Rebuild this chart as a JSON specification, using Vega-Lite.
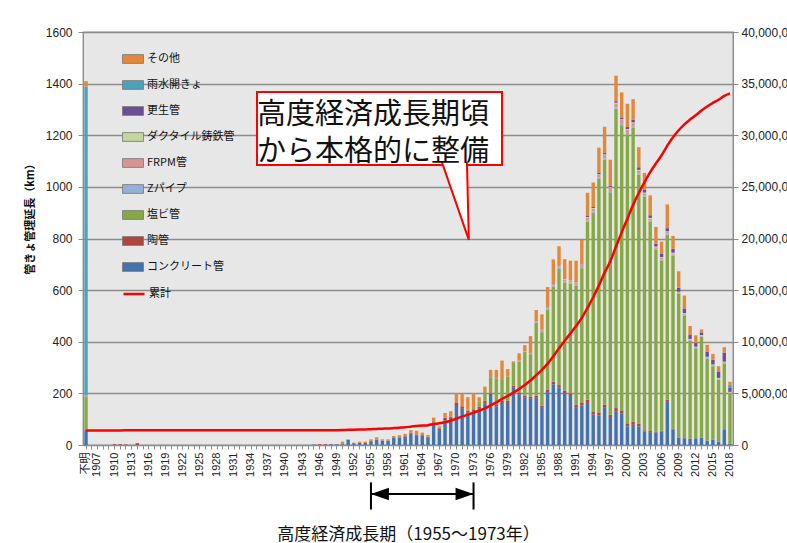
{
"$schema": "https://vega.github.io/schema/vega-lite/v6.json",
"width": 650, "height": 413,
"autosize": {"type": "none"},
"padding": {"left": 83, "top": 32, "right": 54, "bottom": 98},
"background": "white",
"config": {"view": {"fill": "#e7e7e7", "stroke": "#5a5a5a", "strokeWidth": 1.2}, "font": "Liberation Sans"},
"datasets": {
"rank": [
{"type":"コンクリート管","rank":1},{"type":"陶管","rank":2},{"type":"塩ビ管","rank":3},{"type":"Zパイプ","rank":4},{"type":"FRPM管","rank":5},
{"type":"ダクタイル鋳鉄管","rank":6},{"type":"更生管","rank":7},{"type":"雨水開きょ","rank":8},{"type":"その他","rank":9}
],
"bars": [
{"year":"不明","コンクリート管":58,"塩ビ管":130,"FRPM管":5,"雨水開きょ":1195,"その他":22},
{"year":"1910","陶管":3},
{"year":"1911","陶管":3},
{"year":"1912","陶管":2},
{"year":"1914","陶管":7},
{"year":"1945","コンクリート管":2},
{"year":"1946","陶管":3},
{"year":"1947","陶管":3},
{"year":"1948","コンクリート管":3},
{"year":"1949","コンクリート管":3},
{"year":"1950","コンクリート管":3,"その他":10},
{"year":"1951","コンクリート管":20,"その他":2},
{"year":"1952","コンクリート管":7,"その他":2},
{"year":"1953","コンクリート管":8,"その他":5},
{"year":"1954","コンクリート管":8,"その他":5},
{"year":"1955","コンクリート管":15,"その他":7},
{"year":"1956","コンクリート管":20,"その他":10},
{"year":"1957","コンクリート管":17,"その他":5},
{"year":"1958","コンクリート管":17,"その他":5},
{"year":"1959","コンクリート管":27,"その他":8},
{"year":"1960","コンクリート管":28,"陶管":2,"その他":8},
{"year":"1961","コンクリート管":33,"陶管":2,"その他":8},
{"year":"1962","コンクリート管":45,"陶管":3,"その他":10},
{"year":"1963","コンクリート管":38,"陶管":3,"その他":14},
{"year":"1964","コンクリート管":35,"陶管":3,"その他":10},
{"year":"1965","コンクリート管":30,"陶管":2,"その他":7},
{"year":"1966","コンクリート管":80,"陶管":8,"その他":18},
{"year":"1967","コンクリート管":58,"陶管":4,"その他":10},
{"year":"1968","コンクリート管":95,"陶管":10,"塩ビ管":2,"その他":17},
{"year":"1969","コンクリート管":98,"陶管":10,"塩ビ管":3,"その他":20},
{"year":"1970","コンクリート管":155,"陶管":10,"その他":35},
{"year":"1971","コンクリート管":140,"陶管":10,"その他":50},
{"year":"1972","コンクリート管":125,"陶管":8,"塩ビ管":5,"その他":47},
{"year":"1973","コンクリート管":130,"陶管":8,"塩ビ管":5,"その他":57},
{"year":"1974","コンクリート管":140,"陶管":8,"塩ビ管":20,"その他":17},
{"year":"1975","コンクリート管":160,"陶管":10,"塩ビ管":35,"その他":21},
{"year":"1976","コンクリート管":190,"陶管":10,"塩ビ管":60,"その他":31},
{"year":"1977","コンクリート管":150,"陶管":8,"塩ビ管":100,"その他":33},
{"year":"1978","コンクリート管":163,"陶管":10,"塩ビ管":82,"その他":72},
{"year":"1979","コンクリート管":163,"陶管":8,"塩ビ管":95,"その他":28},
{"year":"1980","コンクリート管":222,"陶管":8,"塩ビ管":88,"その他":6},
{"year":"1981","コンクリート管":196,"陶管":8,"塩ビ管":120,"Zパイプ":3,"その他":28},
{"year":"1982","コンクリート管":183,"陶管":8,"塩ビ管":170,"Zパイプ":3,"その他":23},
{"year":"1983","コンクリート管":179,"陶管":8,"塩ビ管":165,"Zパイプ":3,"その他":67},
{"year":"1984","コンクリート管":183,"陶管":8,"塩ビ管":282,"Zパイプ":3,"FRPM管":3,"その他":44},
{"year":"1985","コンクリート管":144,"陶管":8,"塩ビ管":285,"Zパイプ":5,"FRPM管":5,"その他":59},
{"year":"1986","コンクリート管":205,"陶管":10,"塩ビ管":310,"Zパイプ":5,"FRPM管":5,"その他":77},
{"year":"1987","コンクリート管":235,"陶管":10,"塩ビ管":368,"Zパイプ":5,"FRPM管":5,"その他":96},
{"year":"1988","コンクリート管":222,"陶管":10,"塩ビ管":450,"Zパイプ":5,"FRPM管":5,"その他":78},
{"year":"1989","コンクリート管":200,"陶管":10,"塩ビ管":420,"Zパイプ":5,"FRPM管":5,"ダクタイル鋳鉄管":2,"その他":78},
{"year":"1990","コンクリート管":190,"陶管":10,"塩ビ管":425,"Zパイプ":5,"FRPM管":5,"ダクタイル鋳鉄管":2,"その他":77},
{"year":"1991","コンクリート管":144,"陶管":12,"塩ビ管":460,"Zパイプ":5,"FRPM管":8,"ダクタイル鋳鉄管":2,"更生管":3,"その他":80},
{"year":"1992","コンクリート管":153,"陶管":12,"塩ビ管":520,"Zパイプ":5,"FRPM管":8,"ダクタイル鋳鉄管":2,"更生管":3,"その他":92},
{"year":"1993","コンクリート管":163,"陶管":12,"塩ビ管":690,"Zパイプ":5,"FRPM管":10,"ダクタイル鋳鉄管":3,"更生管":4,"その他":90},
{"year":"1994","コンクリート管":118,"陶管":12,"塩ビ管":770,"Zパイプ":5,"FRPM管":10,"ダクタイル鋳鉄管":3,"更生管":4,"その他":95},
{"year":"1995","コンクリート管":114,"陶管":12,"塩ビ管":905,"Zパイプ":5,"FRPM管":10,"ダクタイル鋳鉄管":3,"更生管":5,"その他":98},
{"year":"1996","コンクリート管":144,"陶管":12,"塩ビ管":950,"Zパイプ":5,"FRPM管":12,"ダクタイル鋳鉄管":3,"更生管":5,"その他":102},
{"year":"1997","コンクリート管":105,"陶管":12,"塩ビ管":862,"Zパイプ":5,"FRPM管":12,"ダクタイル鋳鉄管":3,"更生管":6,"その他":100},
{"year":"1998","コンクリート管":131,"陶管":12,"塩ビ管":1160,"Zパイプ":5,"FRPM管":15,"ダクタイル鋳鉄管":3,"更生管":6,"その他":99},
{"year":"1999","コンクリート管":122,"陶管":12,"塩ビ管":1105,"Zパイプ":5,"FRPM管":15,"ダクタイル鋳鉄管":3,"更生管":7,"その他":97},
{"year":"2000","コンクリート管":72,"陶管":12,"塩ビ管":1120,"Zパイプ":5,"FRPM管":12,"ダクタイル鋳鉄管":3,"更生管":8,"その他":90},
{"year":"2001","コンクリート管":78,"陶管":12,"塩ビ管":1140,"Zパイプ":5,"FRPM管":12,"ダクタイル鋳鉄管":3,"更生管":10,"その他":80},
{"year":"2002","コンクリート管":72,"陶管":10,"塩ビ管":966,"Zパイプ":5,"FRPM管":10,"ダクタイル鋳鉄管":3,"更生管":10,"その他":78},
{"year":"2003","コンクリート管":52,"陶管":5,"塩ビ管":905,"Zパイプ":5,"FRPM管":8,"ダクタイル鋳鉄管":3,"更生管":10,"その他":66},
{"year":"2004","コンクリート管":50,"陶管":4,"塩ビ管":810,"Zパイプ":5,"FRPM管":8,"ダクタイル鋳鉄管":3,"更生管":10,"その他":77},
{"year":"2005","コンクリート管":48,"陶管":3,"塩ビ管":705,"Zパイプ":4,"FRPM管":6,"ダクタイル鋳鉄管":3,"更生管":10,"その他":66},
{"year":"2006","コンクリート管":52,"陶管":3,"塩ビ管":660,"Zパイプ":4,"FRPM管":6,"ダクタイル鋳鉄管":3,"更生管":12,"その他":48},
{"year":"2007","コンクリート管":170,"陶管":5,"塩ビ管":640,"Zパイプ":4,"FRPM管":6,"ダクタイル鋳鉄管":3,"更生管":12,"その他":92},
{"year":"2008","コンクリート管":61,"陶管":2,"塩ビ管":670,"Zパイプ":4,"FRPM管":5,"ダクタイル鋳鉄管":3,"更生管":15,"その他":50},
{"year":"2009","コンクリート管":29,"陶管":1,"塩ビ管":555,"Zパイプ":3,"FRPM管":4,"ダクタイル鋳鉄管":2,"更生管":15,"その他":64},
{"year":"2010","コンクリート管":26,"陶管":1,"塩ビ管":475,"Zパイプ":3,"FRPM管":4,"ダクタイル鋳鉄管":2,"更生管":18,"その他":50},
{"year":"2011","コンクリート管":24,"塩ビ管":380,"Zパイプ":2,"FRPM管":3,"ダクタイル鋳鉄管":2,"更生管":15,"その他":35},
{"year":"2012","コンクリート管":26,"塩ビ管":348,"Zパイプ":2,"FRPM管":3,"ダクタイル鋳鉄管":2,"更生管":14,"その他":30},
{"year":"2013","コンクリート管":29,"塩ビ管":390,"Zパイプ":2,"FRPM管":3,"ダクタイル鋳鉄管":2,"更生管":10,"その他":12},
{"year":"2014","コンクリート管":17,"塩ビ管":318,"Zパイプ":2,"FRPM管":3,"ダクタイル鋳鉄管":2,"更生管":20,"その他":26},
{"year":"2015","コンクリート管":20,"塩ビ管":285,"Zパイプ":2,"FRPM管":3,"ダクタイル鋳鉄管":2,"更生管":18,"その他":23},
{"year":"2016","コンクリート管":13,"塩ビ管":240,"Zパイプ":2,"FRPM管":3,"ダクタイル鋳鉄管":2,"更生管":25,"その他":20},
{"year":"2017","コンクリート管":61,"塩ビ管":255,"Zパイプ":2,"FRPM管":3,"ダクタイル鋳鉄管":2,"更生管":35,"その他":21},
{"year":"2018","コンクリート管":5,"塩ビ管":195,"Zパイプ":2,"FRPM管":2,"ダクタイル鋳鉄管":2,"更生管":15,"雨水開きょ":12,"その他":12}
],
"cum": [
{"year":"不明","m":1410000},{"year":"1906","m":1410000},{"year":"1907","m":1410000},{"year":"1908","m":1410000},{"year":"1909","m":1410000},
{"year":"1910","m":1413000},{"year":"1911","m":1416000},{"year":"1912","m":1418000},{"year":"1913","m":1418000},{"year":"1914","m":1425000},
{"year":"1915","m":1425000},{"year":"1916","m":1425000},{"year":"1917","m":1425000},{"year":"1918","m":1425000},{"year":"1919","m":1425000},
{"year":"1920","m":1425000},{"year":"1921","m":1425000},{"year":"1922","m":1425000},{"year":"1923","m":1425000},{"year":"1924","m":1425000},
{"year":"1925","m":1425000},{"year":"1926","m":1425000},{"year":"1927","m":1425000},{"year":"1928","m":1425000},{"year":"1929","m":1425000},
{"year":"1930","m":1425000},{"year":"1931","m":1425000},{"year":"1932","m":1425000},{"year":"1933","m":1425000},{"year":"1934","m":1425000},
{"year":"1935","m":1425000},{"year":"1936","m":1425000},{"year":"1937","m":1425000},{"year":"1938","m":1425000},{"year":"1939","m":1425000},
{"year":"1940","m":1425000},{"year":"1941","m":1425000},{"year":"1942","m":1425000},{"year":"1943","m":1425000},{"year":"1944","m":1425000},
{"year":"1945","m":1427000},{"year":"1946","m":1430000},{"year":"1947","m":1433000},{"year":"1948","m":1436000},{"year":"1949","m":1439000},
{"year":"1950","m":1452000},{"year":"1951","m":1474000},{"year":"1952","m":1483000},{"year":"1953","m":1496000},{"year":"1954","m":1509000},
{"year":"1955","m":1531000},{"year":"1956","m":1561000},{"year":"1957","m":1583000},{"year":"1958","m":1605000},{"year":"1959","m":1640000},
{"year":"1960","m":1678000},{"year":"1961","m":1721000},{"year":"1962","m":1779000},{"year":"1963","m":1834000},{"year":"1964","m":1882000},
{"year":"1965","m":1921000},{"year":"1966","m":2027000},{"year":"1967","m":2099000},{"year":"1968","m":2223000},{"year":"1969","m":2354000},
{"year":"1970","m":2554000},{"year":"1971","m":2754000},{"year":"1972","m":2939000},{"year":"1973","m":3139000},{"year":"1974","m":3324000},
{"year":"1975","m":3550000},{"year":"1976","m":3841000},{"year":"1977","m":4132000},{"year":"1978","m":4459000},{"year":"1979","m":4753000},
{"year":"1980","m":5077000},{"year":"1981","m":5432000},{"year":"1982","m":5819000},{"year":"1983","m":6241000},{"year":"1984","m":6764000},
{"year":"1985","m":7270000},{"year":"1986","m":7882000},{"year":"1987","m":8601000},{"year":"1988","m":9371000},{"year":"1989","m":10091000},
{"year":"1990","m":10805000},{"year":"1991","m":11519000},{"year":"1992","m":12314000},{"year":"1993","m":13291000},{"year":"1994","m":14308000},
{"year":"1995","m":15460000},{"year":"1996","m":16693000},{"year":"1997","m":17798000},{"year":"1998","m":19229000},{"year":"1999","m":20595000},
{"year":"2000","m":21917000},{"year":"2001","m":23257000},{"year":"2002","m":24411000},{"year":"2003","m":25465000},{"year":"2004","m":26432000},
{"year":"2005","m":27277000},{"year":"2006","m":28065000},{"year":"2007","m":28997000},{"year":"2008","m":29807000},{"year":"2009","m":30480000},
{"year":"2010","m":31059000},{"year":"2011","m":31520000},{"year":"2012","m":31945000},{"year":"2013","m":32393000},{"year":"2014","m":32781000},
{"year":"2015","m":33134000},{"year":"2016","m":33439000},{"year":"2017","m":33818000},{"year":"2018","m":34063000}
]
},
"encoding": {
  "x": {"field": "year", "type": "ordinal",
    "scale": {"domain": ["不明","1906","1907","1908","1909","1910","1911","1912","1913","1914","1915","1916","1917","1918","1919","1920","1921","1922","1923","1924","1925","1926","1927","1928","1929","1930","1931","1932","1933","1934","1935","1936","1937","1938","1939","1940","1941","1942","1943","1944","1945","1946","1947","1948","1949","1950","1951","1952","1953","1954","1955","1956","1957","1958","1959","1960","1961","1962","1963","1964","1965","1966","1967","1968","1969","1970","1971","1972","1973","1974","1975","1976","1977","1978","1979","1980","1981","1982","1983","1984","1985","1986","1987","1988","1989","1990","1991","1992","1993","1994","1995","1996","1997","1998","1999","2000","2001","2002","2003","2004","2005","2006","2007","2008","2009","2010","2011","2012","2013","2014","2015","2016","2017","2018"], "paddingInner": 0.4, "paddingOuter": 0.23},
    "axis": {"labelAngle": -90, "labelFontSize": 11, "labelFont": "Liberation Sans Narrow, Liberation Sans, Noto Sans CJK JP",
      "labelExpr": "datum.value == '不明' || (toNumber(datum.value) - 1907) % 3 == 0 ? datum.value : ''",
      "labelOverlap": false, "labelPadding": 3, "labelColor": "#222222",
      "tickSize": 4, "tickColor": "#8c8c8c", "domainColor": "#8c8c8c",
      "title": "高度経済成長期（1955～1973年）", "titleFont": "Noto Sans CJK JP", "titleFontSize": 17, "titleFontWeight": "normal", "titleColor": "#111111",
      "titleX": 325, "titleY": 94, "titleAlign": "center", "titleBaseline": "alphabetic"}
  }
},
"layer": [
  {"layer": [
    {"data": {"name": "bars"},
     "transform": [
       {"fold": ["コンクリート管","陶管","塩ビ管","Zパイプ","FRPM管","ダクタイル鋳鉄管","更生管","雨水開きょ","その他"], "as": ["type", "km"]},
       {"filter": {"field": "km", "valid": true}},
       {"lookup": "type", "from": {"data": {"name": "rank"}, "key": "type", "fields": ["rank"]}}
     ],
     "mark": {"type": "bar"},
     "encoding": {
       "y": {"field": "km", "type": "quantitative", "stack": "zero",
         "scale": {"domain": [0, 1600], "nice": false},
         "axis": {"values": [0,200,400,600,800,1000,1200,1400,1600], "format": "d", "grid": true, "gridColor": "#8c8c8c", "gridWidth": 1.3,
           "domainColor": "#8c8c8c", "tickColor": "#8c8c8c", "tickSize": 5, "labelFontSize": 12, "labelPadding": 6,
           "labelFont": "Liberation Sans Narrow, Liberation Sans", "labelColor": "#222222",
           "title": "管きょ管理延長（km）", "titleFont": "Noto Sans CJK JP", "titleFontSize": 11, "titleFontWeight": "bold",
           "titleAngle": -90, "titleX": -53, "titleY": 184, "titleAlign": "center", "titleBaseline": "middle", "titleColor": "#111111"}},
       "color": {"field": "type", "type": "nominal",
         "scale": {"domain": ["コンクリート管","陶管","塩ビ管","Zパイプ","FRPM管","ダクタイル鋳鉄管","更生管","雨水開きょ","その他"],
                   "range": ["#4472ad","#b0443f","#86a845","#94b0d6","#d69593","#c3d69b","#6b4f96","#4aa3ba","#e3883a"]},
         "legend": {"orient": "none", "legendX": 39, "legendY": 16, "title": null, "direction": "vertical",
           "values": ["その他","雨水開きょ","更生管","ダクタイル鋳鉄管","FRPM管","Zパイプ","塩ビ管","陶管","コンクリート管"],
           "symbolType": "M-1,-0.42H1V0.42H-1Z", "symbolSize": 441, "symbolStrokeWidth": 0.8, "symbolStrokeColor": "#777777",
           "labelFont": "Noto Sans CJK JP", "labelFontSize": 11, "labelColor": "#111111", "labelOffset": 3,
           "rowPadding": 8, "padding": 0, "offset": 0}},
       "order": {"field": "rank", "type": "quantitative", "sort": "ascending"}
     }
    },
    {"data": {"values": [{}]},
     "mark": {"type": "rect", "fill": "white", "stroke": "#ff0000", "strokeWidth": 2},
     "encoding": {"x": {"datum": "1935"}, "x2": {"datum": "1978"},
       "y": {"datum": 1368, "type": "quantitative", "scale": {"domain": [0, 1600], "nice": false}}, "y2": {"datum": 1085}}},
    {"data": {"values": [{}]},
     "mark": {"type": "point", "shape": "M-0.39,-1.08L0.33,1L0.28,-1.08", "filled": true, "fill": "white", "stroke": "#ff0000", "strokeWidth": 2, "size": 5625, "opacity": 1},
     "encoding": {"x": {"datum": "1970"}, "y": {"datum": 940, "type": "quantitative", "scale": {"domain": [0, 1600], "nice": false}}}},
    {"data": {"values": [{}]},
     "mark": {"type": "text", "text": ["高度経済成長期頃", "から本格的に整備"], "align": "left", "baseline": "middle", "font": "Noto Sans CJK JP", "fontSize": 29, "lineHeight": 37, "color": "#111111", "dx": 0},
     "encoding": {"x": {"datum": "1935"}, "y": {"datum": 1280, "type": "quantitative", "scale": {"domain": [0, 1600], "nice": false}}}},
    {"data": {"values": [{}]},
     "mark": {"type": "rule", "color": "black", "strokeWidth": 2},
     "encoding": {"x": {"datum": "1955"}, "x2": {"datum": "1973"}, "y": {"datum": -190, "type": "quantitative", "scale": {"domain": [0, 1600], "nice": false}}}},
    {"data": {"values": [{"year": "1955"}, {"year": "1973"}]},
     "mark": {"type": "rule", "color": "black", "strokeWidth": 2},
     "encoding": {"y": {"datum": -145, "type": "quantitative", "scale": {"domain": [0, 1600], "nice": false}}, "y2": {"datum": -250}}},
    {"data": {"values": [{}]},
     "mark": {"type": "point", "shape": "M-1,0L1,-0.7L1,0.7Z", "filled": true, "color": "black", "opacity": 1, "size": 324, "xOffset": 9},
     "encoding": {"x": {"datum": "1955"}, "y": {"datum": -190, "type": "quantitative", "scale": {"domain": [0, 1600], "nice": false}}}},
    {"data": {"values": [{}]},
     "mark": {"type": "point", "shape": "M1,0L-1,-0.7L-1,0.7Z", "filled": true, "color": "black", "opacity": 1, "size": 324, "xOffset": -9},
     "encoding": {"x": {"datum": "1973"}, "y": {"datum": -190, "type": "quantitative", "scale": {"domain": [0, 1600], "nice": false}}}}
  ]},
  {"data": {"name": "cum"},
   "mark": {"type": "line", "strokeWidth": 2.5, "interpolate": "monotone"},
   "encoding": {
     "y": {"field": "m", "type": "quantitative", "scale": {"domain": [0, 40000000], "nice": false},
       "axis": {"orient": "right", "values": [0,5000000,10000000,15000000,20000000,25000000,30000000,35000000,40000000],
         "labelExpr": "format(datum.value, ',.0f')",
         "grid": false, "domainColor": "#8c8c8c", "tickColor": "#8c8c8c", "tickSize": 5, "labelPadding": 3, "labelFontSize": 12,
         "labelFont": "Liberation Sans Narrow, Liberation Sans", "labelColor": "#222222", "title": null}},
     "stroke": {"datum": "累計", "type": "nominal", "scale": {"range": ["#ff0000"]},
       "legend": {"orient": "none", "legendX": 39, "legendY": 250, "title": null, "symbolType": "M-1,0H1", "symbolSize": 441, "symbolStrokeWidth": 2.5,
         "labelFont": "Noto Sans CJK JP", "labelFontSize": 11, "labelColor": "#111111", "labelOffset": 3, "padding": 0, "offset": 0}}
   }
  }
],
"resolve": {"scale": {"y": "independent"}}
}
